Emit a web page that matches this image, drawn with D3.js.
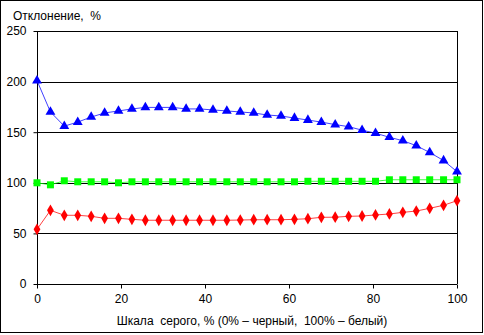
<!DOCTYPE html>
<html><head><meta charset="utf-8">
<script src="https://cdn.jsdelivr.net/npm/d3@7"></script>
<style>body{margin:0;background:#fff}svg{display:block;font-family:"Liberation Sans",Arial,sans-serif}text{white-space:pre}</style>
</head><body><svg id="c" width="484" height="335"></svg>
<script>
const xs = [0,3.2,6.5,9.7,12.9,16.1,19.4,22.6,25.8,29.0,32.3,35.5,38.7,41.9,45.2,48.4,51.6,54.8,58.1,61.3,64.5,67.7,71.0,74.2,77.4,80.6,83.9,87.1,90.3,93.5,96.8,100];
const blue = [201,170,156,160,165,169,171,173,174.5,174.5,174.5,173,173,172,171,170,169,167,166,164,162,160,157.5,155.5,152,149,145,141.6,136.7,130,122,111];
const green = [100,98,102,101,101,101,100,101,101,101,101,101,101,101,101,101,101,101,101,101,101.5,101.5,101.5,101.5,101.5,101.5,103,103,103,103,103,103];
const red = [54,72.8,67.9,67.9,66.9,64.9,64.9,63.9,63,63,63,63,63,63,63,63.2,63.5,63.5,63.5,63.9,64.5,65.9,66,66.9,67.2,68.2,69.2,70.8,72.1,74.8,77.8,82.3];
const xTicks = [0,20,40,60,80,100];
const yTicks = [0,50,100,150,200,250];
const yTitle = "Отклонение,  %";
const xTitle = "Шкала  серого, % (0% – черный,  100% – белый)";

const svg = d3.select("#c");
const L=37, R=457, T=31, B=284;
const x = d3.scaleLinear().domain([0,100]).range([L,R]);
const y = d3.scaleLinear().domain([0,250]).range([B,T]);

svg.append("rect").attr("x",0.5).attr("y",0.5).attr("width",482).attr("height",332)
  .attr("fill","#fff").attr("stroke","#000");

svg.append("g").selectAll("line").data(yTicks.filter(d=>d>0)).join("line")
  .attr("x1",L).attr("x2",R).attr("y1",d=>Math.round(y(d))+0.5).attr("y2",d=>Math.round(y(d))+0.5)
  .attr("stroke","#000");
svg.append("line").attr("x1",R+0.5).attr("x2",R+0.5).attr("y1",T).attr("y2",B).attr("stroke","#000");

const yAxis = svg.append("g").attr("transform",`translate(${L+0.5},0)`)
  .call(d3.axisLeft(y).tickValues(yTicks).tickSize(4).tickPadding(7));
const xAxis = svg.append("g").attr("transform",`translate(0,${Math.round(B)+0.5})`)
  .call(d3.axisBottom(x).tickValues(xTicks).tickSize(4).tickPadding(6));
[yAxis,xAxis].forEach(a=>{
  a.selectAll("path.domain").attr("stroke","#000");
  a.selectAll("line").attr("stroke","#000");
  a.selectAll("text").attr("fill","#000").style("font-size","12px").style("font-family","Liberation Sans, Arial, sans-serif");
});
yAxis.select("path.domain").attr("d",`M0,${T}V${B}`);
xAxis.select("path.domain").attr("d",`M${L},0H${R}`);

svg.append("text").attr("x",13).attr("y",20).attr("xml:space","preserve").text(yTitle).style("font-size","12px");
svg.append("text").attr("x",252).attr("y",325).attr("text-anchor","middle").attr("xml:space","preserve").text(xTitle).style("font-size","12px");

const line = d3.line().x((d,i)=>x(xs[i])).y(d=>y(d));
const series = [
  {v:red, c:"#ff0000", sym:d3.symbolDiamond, size:40},
  {v:green, c:"#00ff00", sym:d3.symbolSquare, size:49},
  {v:blue, c:"#0000ff", sym:d3.symbolTriangle, size:42},
];
series.forEach(s=>{
  svg.append("path").attr("d",line(s.v)).attr("fill","none").attr("stroke",s.c).attr("stroke-width",1).attr("opacity",0.75);
});
series.forEach(s=>{
  svg.append("g").selectAll("path").data(s.v).join("path")
    .attr("d",d3.symbol().type(s.sym).size(s.size))
    .attr("transform",(d,i)=>`translate(${x(xs[i])},${y(d)})`)
    .attr("fill",s.c);
});
</script></body></html>
